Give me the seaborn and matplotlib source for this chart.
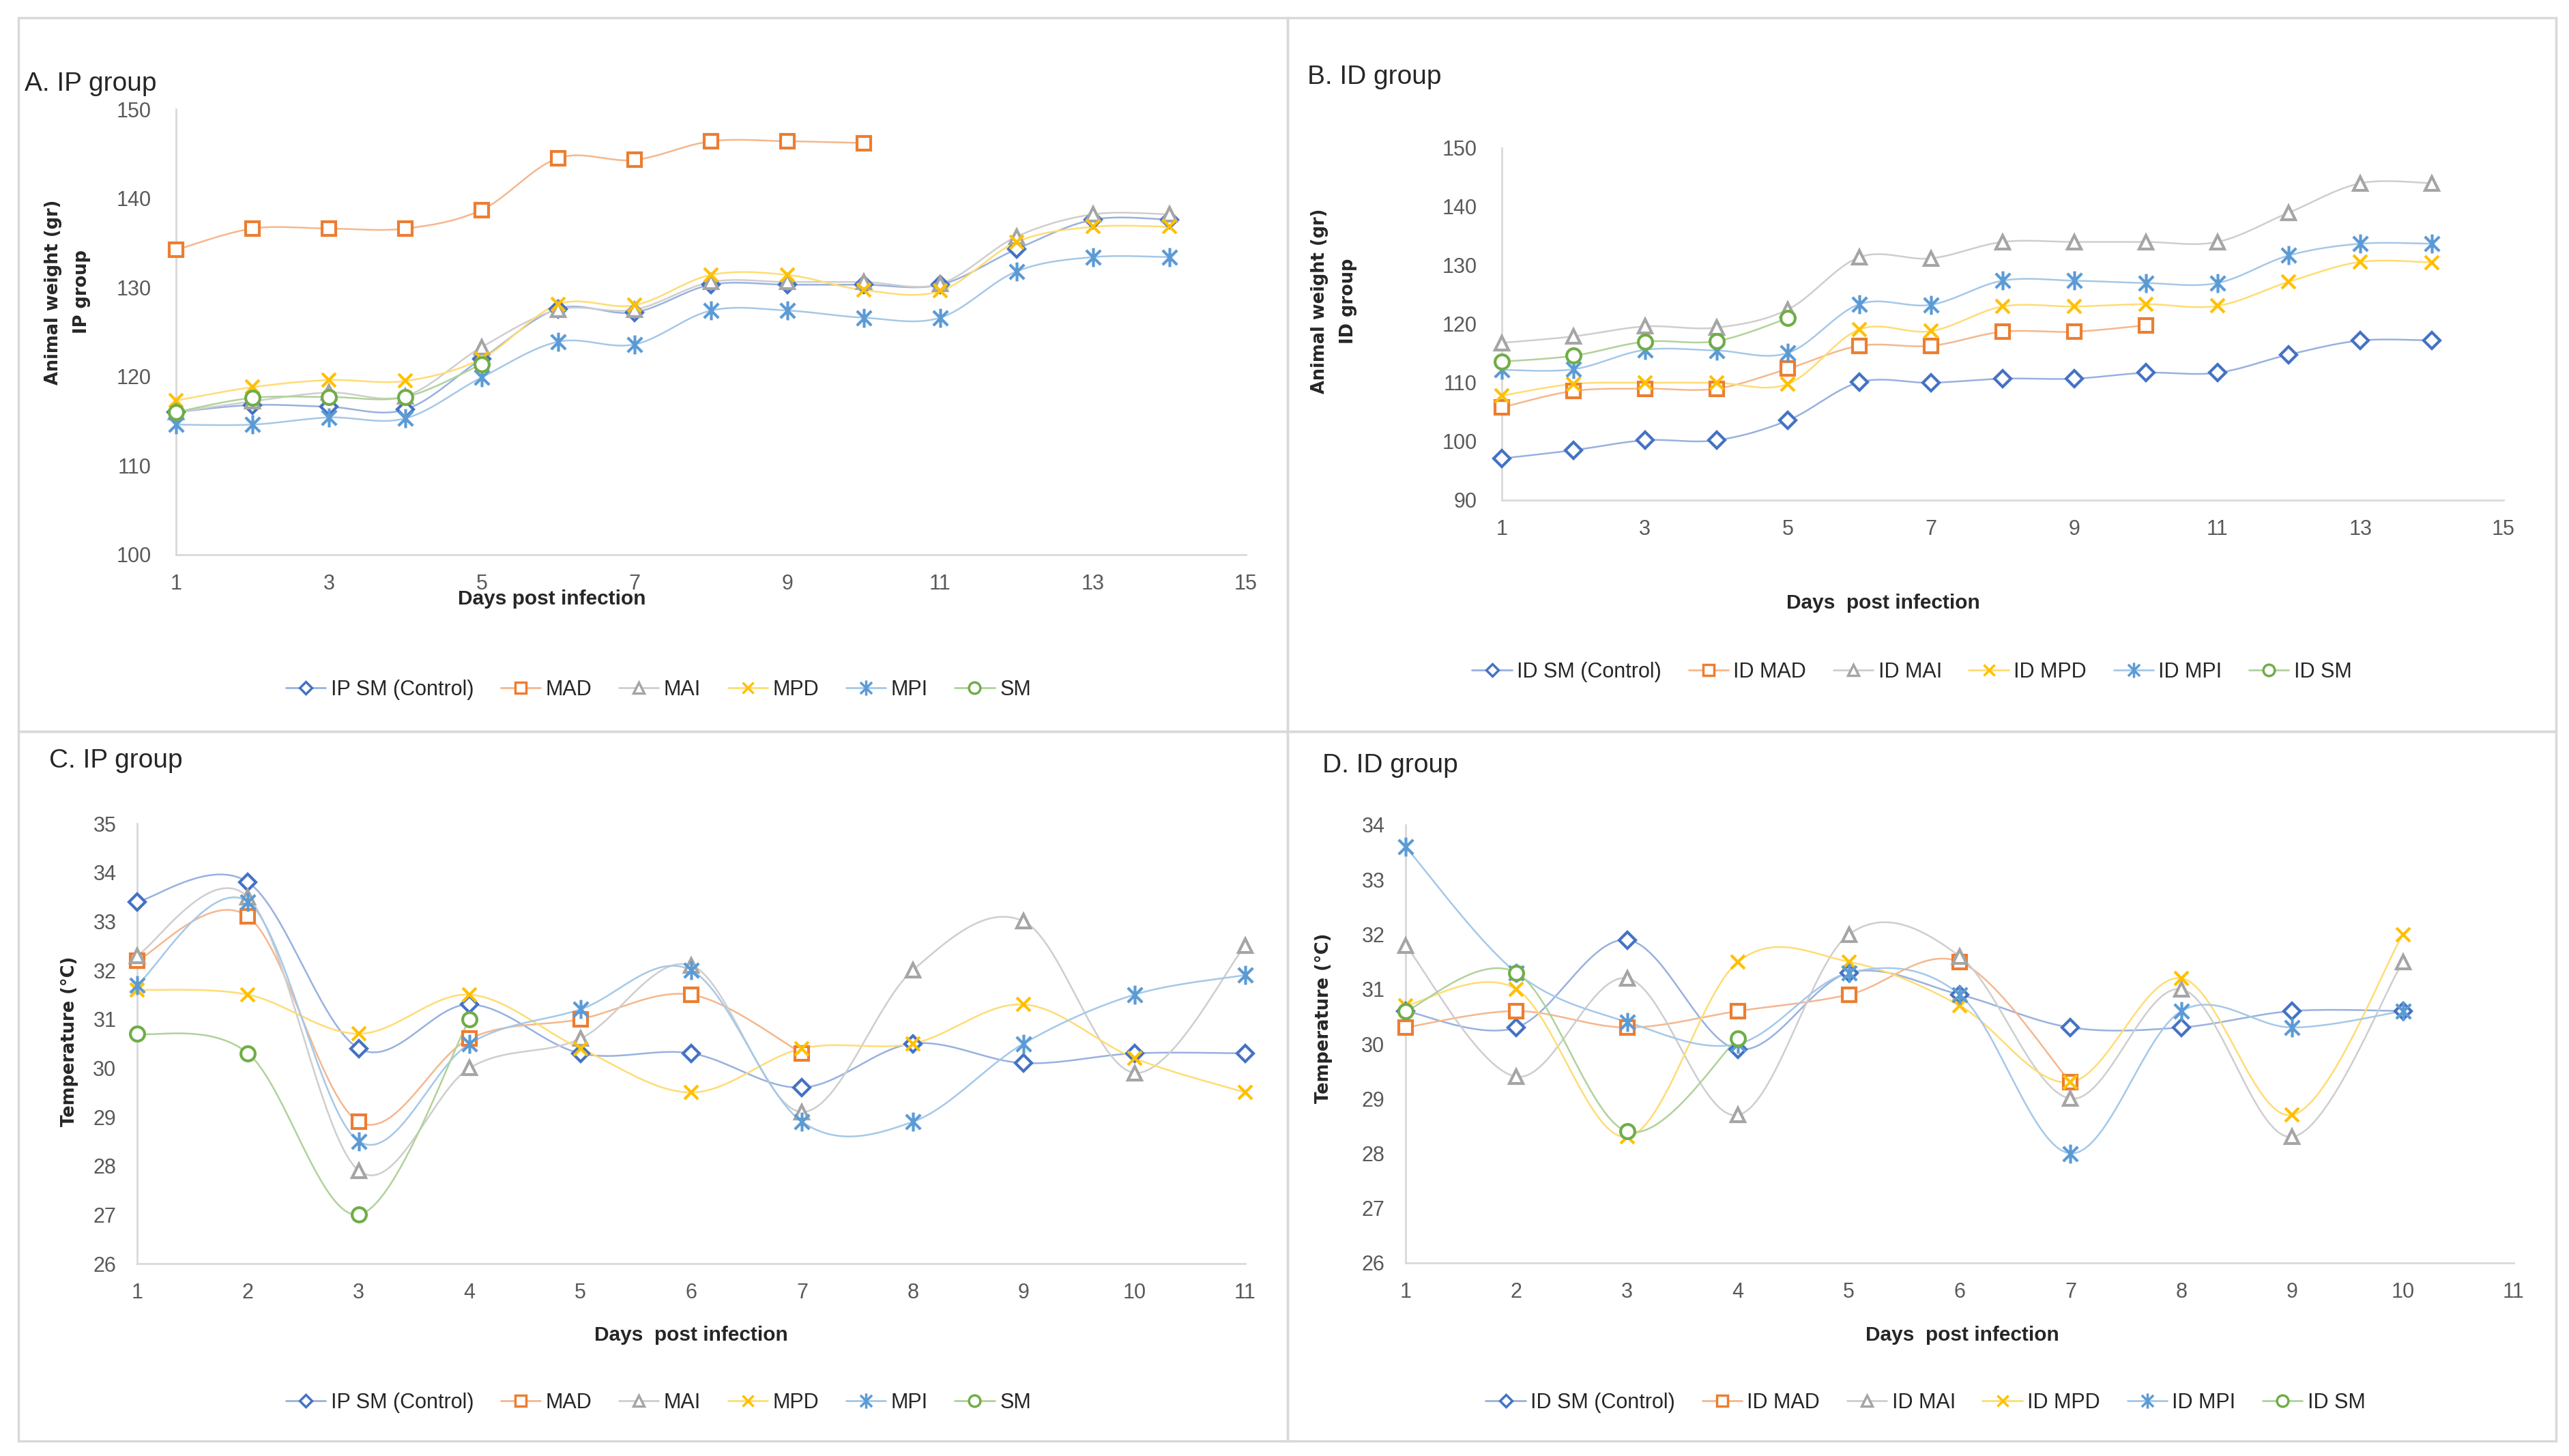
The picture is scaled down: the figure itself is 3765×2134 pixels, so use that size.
import numpy as np
import matplotlib
import matplotlib.pyplot as plt
import seaborn as sns
from matplotlib.lines import Line2D
from matplotlib.path import Path
from matplotlib.patches import Rectangle
from matplotlib.colors import to_rgb
matplotlib.use('Agg')

# ---- data ----
ip_weight_labels = ['IP SM (Control)', 'MAD', 'MAI', 'MPD', 'MPI', 'SM']
id_weight_labels = ['ID SM (Control)', 'ID MAD', 'ID MAI', 'ID MPD', 'ID MPI', 'ID SM']

# A. IP group - animal weight (gr), day 1..n
ipw_control = [116.0, 116.8, 116.6, 116.3, 122.0, 127.6, 127.2, 130.3, 130.3, 130.3, 130.3, 134.3, 137.6, 137.6]
ipw_mad = [134.2, 136.6, 136.6, 136.6, 138.7, 144.5, 144.3, 146.4, 146.4, 146.2]
ipw_mai = [116.0, 117.2, 118.2, 117.8, 123.3, 127.5, 127.5, 130.6, 130.6, 130.6, 130.4, 135.7, 138.2, 138.2]
ipw_mpd = [117.3, 118.8, 119.6, 119.5, 122.0, 128.1, 128.0, 131.4, 131.4, 129.7, 129.6, 135.1, 136.8, 136.8]
ipw_mpi = [114.6, 114.6, 115.4, 115.3, 119.9, 123.9, 123.6, 127.4, 127.4, 126.6, 126.6, 131.8, 133.4, 133.4]
ipw_sm = [116.0, 117.6, 117.7, 117.7, 121.4]

# B. ID group - animal weight (gr)
idw_control = [97.1, 98.5, 100.2, 100.2, 103.6, 110.1, 110.0, 110.7, 110.7, 111.7, 111.7, 114.8, 117.2, 117.2]
idw_mad = [105.8, 108.6, 109.0, 109.0, 112.4, 116.3, 116.3, 118.7, 118.7, 119.8]
idw_mai = [116.8, 117.9, 119.6, 119.4, 122.5, 131.4, 131.2, 134.0, 134.0, 134.0, 134.0, 139.0, 144.0, 144.0]
idw_mpd = [107.8, 109.8, 110.0, 110.0, 109.8, 119.1, 118.8, 123.0, 123.0, 123.4, 123.1, 127.2, 130.6, 130.5]
idw_mpi = [112.2, 112.3, 115.6, 115.5, 115.1, 123.4, 123.3, 127.4, 127.4, 127.0, 127.0, 131.7, 133.7, 133.7]
idw_sm = [113.6, 114.6, 117.0, 117.1, 121.0]

# C. IP group - temperature (C)
ipt_control = [33.4, 33.8, 30.4, 31.3, 30.3, 30.3, 29.6, 30.5, 30.1, 30.3, 30.3]
ipt_mad = [32.2, 33.1, 28.9, 30.6, 31.0, 31.5, 30.3]
ipt_mai = [32.3, 33.5, 27.9, 30.0, 30.6, 32.1, 29.1, 32.0, 33.0, 29.9, 32.5]
ipt_mpd = [31.6, 31.5, 30.7, 31.5, 30.4, 29.5, 30.4, 30.5, 31.3, 30.2, 29.5]
ipt_mpi = [31.7, 33.4, 28.5, 30.5, 31.2, 32.0, 28.9, 28.9, 30.5, 31.5, 31.9]
ipt_sm = [30.7, 30.3, 27.0, 31.0]

# D. ID group - temperature (C)
idt_control = [30.6, 30.3, 31.9, 29.9, 31.3, 30.9, 30.3, 30.3, 30.6, 30.6]
idt_mad = [30.3, 30.6, 30.3, 30.6, 30.9, 31.5, 29.3]
idt_mai = [31.8, 29.4, 31.2, 28.7, 32.0, 31.6, 29.0, 31.0, 28.3, 31.5]
idt_mpd = [30.7, 31.0, 28.3, 31.5, 31.5, 30.7, 29.3, 31.2, 28.7, 32.0]
idt_mpi = [33.6, 31.3, 30.4, 30.0, 31.3, 30.9, 28.0, 30.6, 30.3, 30.6]
idt_sm = [30.6, 31.3, 28.4, 30.1]

colors = ['#4472C4', '#ED7D31', '#A5A5A5', '#FFC000', '#5B9BD5', '#70AD47']

# excel "star" marker: x with a vertical bar
star = Path([(-1, -1), (1, 1), (-1, 1), (1, -1), (0, -1.3), (0, 1.3)],
            [Path.MOVETO, Path.LINETO, Path.MOVETO, Path.LINETO, Path.MOVETO, Path.LINETO])
markers = [('D', 12, 'white'), ('s', 15, 'white'), ('^', 15, 'white'),
           ('x', 15, 'none'), (star, 20, 'none'), ('o', 15, 'white')]

sns.set_style('white')
plt.rcParams['font.family'] = ['Liberation Sans', 'DejaVu Sans']

W, H = 3766, 2134
fig = plt.figure(figsize=(W / 100, H / 100), dpi=100)


def light(c, k=0.55):
    r = np.array(to_rgb(c))
    return tuple(r * k + (1 - k))


def smooth(x, y, n=25):
    # excel-style smoothed line (catmull-rom as bezier)
    x = np.asarray(x, float)
    y = np.asarray(y, float)
    px = np.concatenate([[x[0]], x, [x[-1]]])
    py = np.concatenate([[y[0]], y, [y[-1]]])
    t = np.linspace(0, 1, n)[:, None]
    xs, ys = [], []
    for i in range(len(x) - 1):
        p0 = np.array([px[i], py[i]])
        p1 = np.array([px[i + 1], py[i + 1]])
        p2 = np.array([px[i + 2], py[i + 2]])
        p3 = np.array([px[i + 3], py[i + 3]])
        c1 = p1 + (p2 - p0) / 6
        c2 = p2 - (p3 - p1) / 6
        b = (1 - t) ** 3 * p1 + 3 * (1 - t) ** 2 * t * c1 + 3 * (1 - t) * t ** 2 * c2 + t ** 3 * p2
        xs.append(b[:, 0])
        ys.append(b[:, 1])
    return np.concatenate(xs), np.concatenate(ys)


def px_axes(x0, x1, y0, y1):
    return fig.add_axes([x0 / W, 1 - y1 / H, (x1 - x0) / W, (y1 - y0) / H])


def panel(ax, series, xlim, xticks, ylim, yticks, ypad):
    for vals, c, (mk, ms, fc) in zip(series, colors, markers):
        days = np.arange(1, len(vals) + 1)
        sx, sy = smooth(days, vals)
        sns.lineplot(x=sx, y=sy, ax=ax, color=light(c), lw=1.8, sort=False,
                     estimator=None, legend=False, zorder=2)
        ax.plot(days, vals, ls='none', marker=mk, ms=ms, mfc=fc, mec=c, mew=3, zorder=3,
                clip_on=False)
    ax.set_xlim(*xlim)
    ax.set_ylim(*ylim)
    ax.set_xticks(xticks)
    ax.set_yticks(yticks)
    ax.set_xlabel('')
    ax.set_ylabel('')
    sns.despine(ax=ax)
    for s in ['left', 'bottom']:
        ax.spines[s].set_color('#D9D9D9')
        ax.spines[s].set_linewidth(2)
    ax.tick_params(axis='both', length=0, labelsize=22, labelcolor='#595959')
    ax.tick_params(axis='x', pad=20)
    ax.tick_params(axis='y', pad=ypad)


def legend(ax, labels, cx, cy):
    handles = [Line2D([0], [0], color=light(c), lw=2, marker=mk, ms=ms * 0.8, mfc=fc, mec=c, mew=2.5)
               for c, (mk, ms, fc) in zip(colors, markers)]
    ax.legend(handles, labels, loc='center', bbox_to_anchor=(cx / W, 1 - cy / H),
              bbox_transform=fig.transFigure, ncol=6, frameon=False, fontsize=22,
              handlelength=1.9, handletextpad=0.25, columnspacing=1.3)


def box(x0, y0, x1, y1):
    fig.add_artist(Rectangle((x0 / W, 1 - y1 / H), (x1 - x0) / W, (y1 - y0) / H,
                             transform=fig.transFigure, fill=False, ec='#D9D9D9', lw=2.5))


def ftext(x, y, s, **kw):
    fig.text(x / W, 1 - y / H, s, **kw)


box(27, 26, 1887, 1072)
box(1887, 26, 3746, 1072)
box(27, 1072, 1887, 2112)
box(1887, 1072, 3746, 2112)

ylab = dict(family=['DejaVu Sans'], weight='bold', fontsize=18.5, rotation=90, ha='center', va='center')
xlab = dict(weight='bold', fontsize=21.5, ha='center', va='center')
ttl = dict(fontsize=28, ha='left', va='baseline')

# A
axA = px_axes(258, 1826, 160, 813)
panel(axA, [ipw_control, ipw_mad, ipw_mai, ipw_mpd, ipw_mpi, ipw_sm],
      (1, 15), range(1, 16, 2), (100, 150), range(100, 151, 10), 26)
legend(axA, ip_weight_labels, 965, 1011)
ftext(36, 133, 'A. IP group', **ttl)
ftext(78, 428, 'Animal weight (gr)', **ylab)
ftext(120, 428, 'IP group', **ylab)
ftext(809, 878, 'Days post infection', **xlab)

# B
axB = px_axes(2201, 3669, 217, 733)
panel(axB, [idw_control, idw_mad, idw_mai, idw_mpd, idw_mpi, idw_sm],
      (1, 15), range(1, 16, 2), (90, 150), range(90, 151, 10), 26)
legend(axB, id_weight_labels, 2802, 985)
ftext(1916, 123, 'B. ID group', **ttl)
ftext(1934, 441, 'Animal weight (gr)', **ylab)
ftext(1976, 441, 'ID group', **ylab)
ftext(2760, 884, 'Days  post infection', **xlab)

# C
axC = px_axes(201, 1825, 1207, 1852)
panel(axC, [ipt_control, ipt_mad, ipt_mai, ipt_mpd, ipt_mpi, ipt_sm],
      (1, 11), range(1, 12), (26, 35), range(26, 36), 22)
legend(axC, ip_weight_labels, 965, 2056)
ftext(72, 1125, 'C. IP group', **ttl)
ftext(102, 1526, 'Temperature (°C)', **ylab)
ftext(1013, 1957, 'Days  post infection', **xlab)

# D
axD = px_axes(2060, 3684, 1209, 1851)
panel(axD, [idt_control, idt_mad, idt_mai, idt_mpd, idt_mpi, idt_sm],
      (1, 11), range(1, 12), (26, 34), range(26, 35), 22)
legend(axD, id_weight_labels, 2822, 2056)
ftext(1938, 1132, 'D. ID group', **ttl)
ftext(1940, 1492, 'Temperature (°C)', **ylab)
ftext(2876, 1957, 'Days  post infection', **xlab)

fig.savefig('out.png', dpi=100, facecolor='white')
